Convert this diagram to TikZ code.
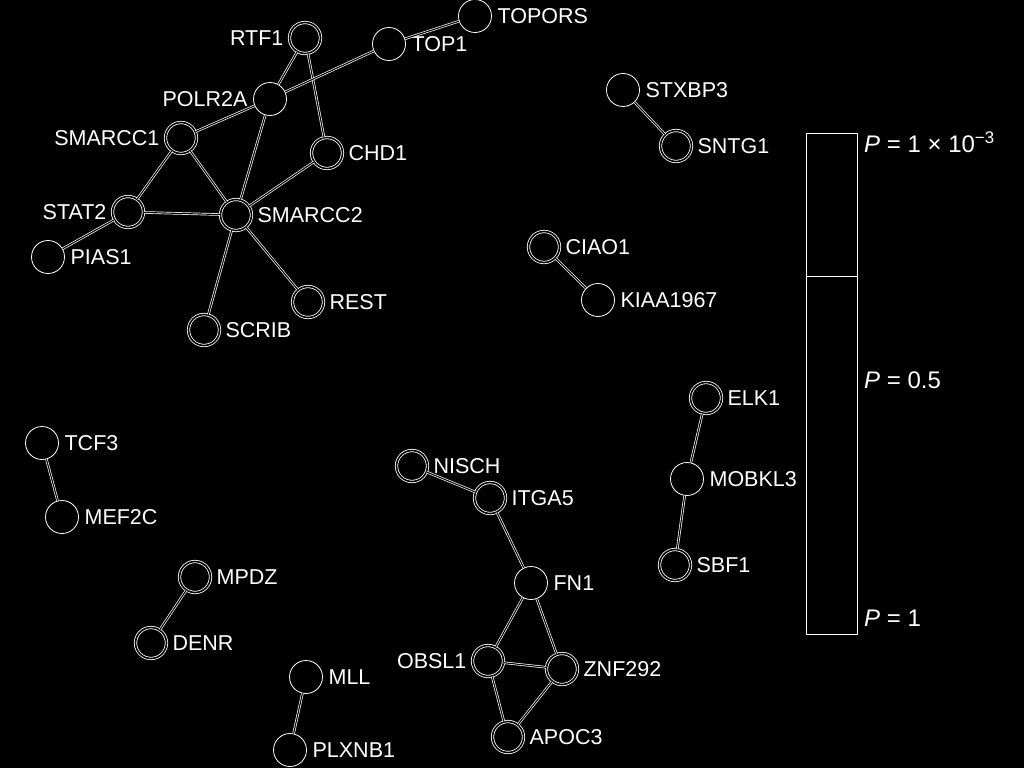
\documentclass[tikz,border=0pt]{standalone}
\usepackage{fontspec}
\setmainfont{Liberation Sans}
\usetikzlibrary{positioning}
\definecolor{cBack}{RGB}{0,0,0}
\definecolor{cEdge}{RGB}{255,255,255}
\tikzset{
  gene/.style={
    circle, draw=cEdge, fill=cBack, line width=0.8pt,
    minimum size=33pt, inner sep=0pt,
  },
  ringed/.style={gene, double=cBack, double distance=1.6pt, minimum size=31pt},
  lab/.style={font=\fontsize{21.5}{24}\selectfont, text=cEdge, inner sep=5.5pt},
  scalelab/.style={font=\fontsize{24}{26}\selectfont, text=cEdge, inner sep=3pt, anchor=west},
  link/.style={draw=cEdge, line width=0.7pt, double=cBack, double distance=1.1pt},
}

\begin{document}
\begin{tikzpicture}[x=1pt, y=-1pt]

% ===== canvas =====
\fill[cBack] (0,0) rectangle (1024,768);
\useasboundingbox (0,0) rectangle (1024,768);

% ===== chromatin cluster =====
\node[ringed, label={[lab]left:RTF1}]     (rtf1)    at (305,38)  {};
\node[gene,   label={[lab]right:TOP1}]    (top1)    at (389,44)  {};
\node[gene,   label={[lab]right:TOPORS}]  (topors)  at (475,16)  {};
\node[gene,   label={[lab]left:POLR2A}]   (polr2a)  at (270,99)  {};
\node[ringed, label={[lab]left:SMARCC1}]  (smarcc1) at (181,138) {};
\node[ringed, label={[lab]right:CHD1}]    (chd1)    at (327,153) {};
\node[ringed, label={[lab]left:STAT2}]    (stat2)   at (128,212) {};
\node[ringed, label={[lab]right:SMARCC2}] (smarcc2) at (236,215) {};
\node[gene,   label={[lab]right:PIAS1}]   (pias1)   at (48,257)  {};
\node[ringed, label={[lab]right:REST}]    (rest)    at (308,302) {};
\node[ringed, label={[lab]right:SCRIB}]   (scrib)   at (204,330) {};

% ===== pairs, top right =====
\node[gene,   label={[lab]right:STXBP3}]   (stxbp3)   at (623,90)  {};
\node[ringed, label={[lab]right:SNTG1}]    (sntg1)    at (676,146) {};
\node[ringed, label={[lab]right:CIAO1}]    (ciao1)    at (544,247) {};
\node[gene,   label={[lab]right:KIAA1967}] (kiaa1967) at (598,300) {};

% ===== chain, right =====
\node[ringed, label={[lab]right:ELK1}]   (elk1)   at (706,398) {};
\node[gene,   label={[lab]right:MOBKL3}] (mobkl3) at (687,479) {};
\node[ringed, label={[lab]right:SBF1}]   (sbf1)   at (675,565) {};

% ===== lower left pairs =====
\node[gene,   label={[lab]right:TCF3}]   (tcf3)   at (42,443)  {};
\node[gene,   label={[lab]right:MEF2C}]  (mef2c)  at (62,517)  {};
\node[ringed, label={[lab]right:MPDZ}]   (mpdz)   at (195,577) {};
\node[ringed, label={[lab]right:DENR}]   (denr)   at (151,643) {};
\node[gene,   label={[lab]right:MLL}]    (mll)    at (306,677) {};
\node[gene,   label={[lab]right:PLXNB1}] (plxnb1) at (290,750) {};

% ===== fibronectin cluster =====
\node[ringed, label={[lab]right:NISCH}]  (nisch)  at (412,466) {};
\node[ringed, label={[lab]right:ITGA5}]  (itga5)  at (490,498) {};
\node[gene,   label={[lab]right:FN1}]    (fn1)    at (531,583) {};
\node[ringed, label={[lab]left:OBSL1}]   (obsl1)  at (488,661) {};
\node[ringed, label={[lab]right:ZNF292}] (znf292) at (562,669) {};
\node[ringed, label={[lab]right:APOC3}]  (apoc3)  at (508,737) {};

% ===== links =====
\draw[link] (rtf1) -- (polr2a);
\draw[link] (rtf1) -- (chd1);
\draw[link] (smarcc1) -- (polr2a);
\draw[link] (polr2a) -- (top1);
\draw[link] (top1) -- (topors);
\draw[link] (polr2a) -- (smarcc2);
\draw[link] (smarcc1) -- (stat2);
\draw[link] (smarcc1) -- (smarcc2);
\draw[link] (stat2) -- (smarcc2);
\draw[link] (stat2) -- (pias1);
\draw[link] (smarcc2) -- (chd1);
\draw[link] (smarcc2) -- (rest);
\draw[link] (smarcc2) -- (scrib);

\draw[link] (stxbp3) -- (sntg1);
\draw[link] (ciao1) -- (kiaa1967);
\draw[link] (elk1) -- (mobkl3);
\draw[link] (mobkl3) -- (sbf1);
\draw[link] (tcf3) -- (mef2c);
\draw[link] (mpdz) -- (denr);
\draw[link] (mll) -- (plxnb1);

\draw[link] (nisch) -- (itga5);
\draw[link] (itga5) -- (fn1);
\draw[link] (fn1) -- (obsl1);
\draw[link] (fn1) -- (znf292);
\draw[link] (obsl1) -- (znf292);
\draw[link] (obsl1) -- (apoc3);
\draw[link] (znf292) -- (apoc3);

% ===== colour scale =====
\draw[cEdge, line width=0.8pt] (806,133) rectangle (857,634);
\draw[cEdge, line width=0.8pt] (806,276) -- (857,276);
\node[scalelab] (pmin) at (861,142) {\textit{P} = 1 × 10\textsuperscript{−3}};
\node[scalelab] (pmid) at (861,380) {\textit{P} = 0.5};
\node[scalelab] (pmax) at (861,618) {\textit{P} = 1};

\end{tikzpicture}
\end{document}
